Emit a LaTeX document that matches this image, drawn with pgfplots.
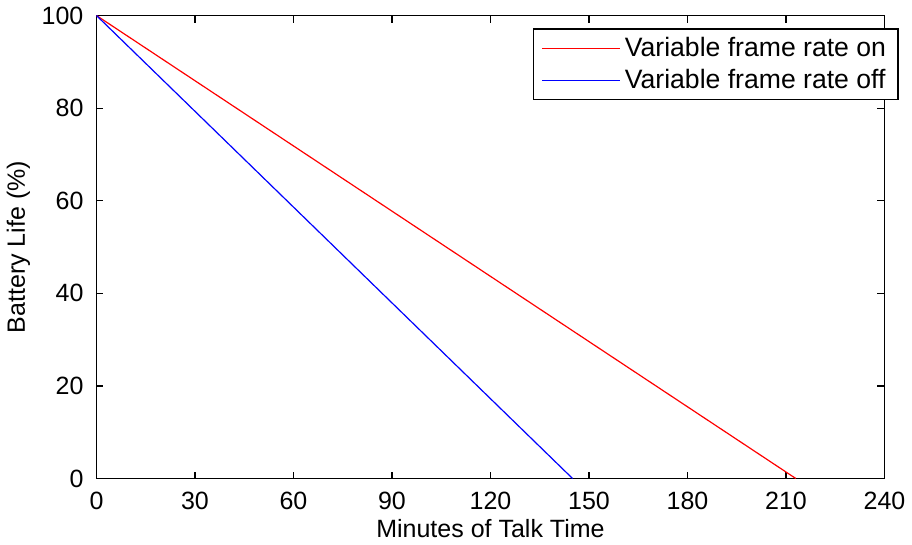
\documentclass[border=0pt]{standalone}
\usepackage{fontspec}
\setmainfont{Liberation Sans}
\usepackage{pgfplots}
\pgfplotsset{compat=1.18}
\begin{document}
\begin{tikzpicture}
\begin{axis}[
    scale only axis,
    width=394pt, height=231.5pt,
    xmin=0, xmax=240,
    ymin=0, ymax=100,
    xtick={0,30,60,90,120,150,180,210,240},
    ytick={0,20,40,60,80,100},
    tick align=inside,
    major tick length=3.5pt,
    axis line style={line width=0.6pt},
    every tick/.style={black, line width=0.6pt},
    /pgf/number format/assume math mode=true,
    font=\fontsize{12.5}{15}\selectfont,
    tick label style={font=\fontsize{12.5}{15}\selectfont},
    xticklabel style={yshift=-3pt},
    yticklabel style={xshift=-3pt},
    xlabel={Minutes of Talk Time},
    ylabel={Battery Life (\%)},
    xlabel style={yshift=2pt},
    ylabel style={yshift=-1pt},
    legend cell align=left,
    legend style={at={(1.018,0.972)}, anchor=north east, draw=black, line width=0.6pt,
        font=\fontsize{13.3}{16}\selectfont, row sep=1pt, inner xsep=4pt, inner ysep=2pt},
    legend image code/.code={\draw[#1] (0pt,0pt) -- (39pt,0pt);},
]
\addplot[red, line width=0.6pt] coordinates {(0,100) (213,0)};
\addlegendentry{Variable frame rate on}
\addplot[blue, line width=0.6pt] coordinates {(0,100) (145,0)};
\addlegendentry{Variable frame rate off}
\end{axis}
\end{tikzpicture}
\end{document}
